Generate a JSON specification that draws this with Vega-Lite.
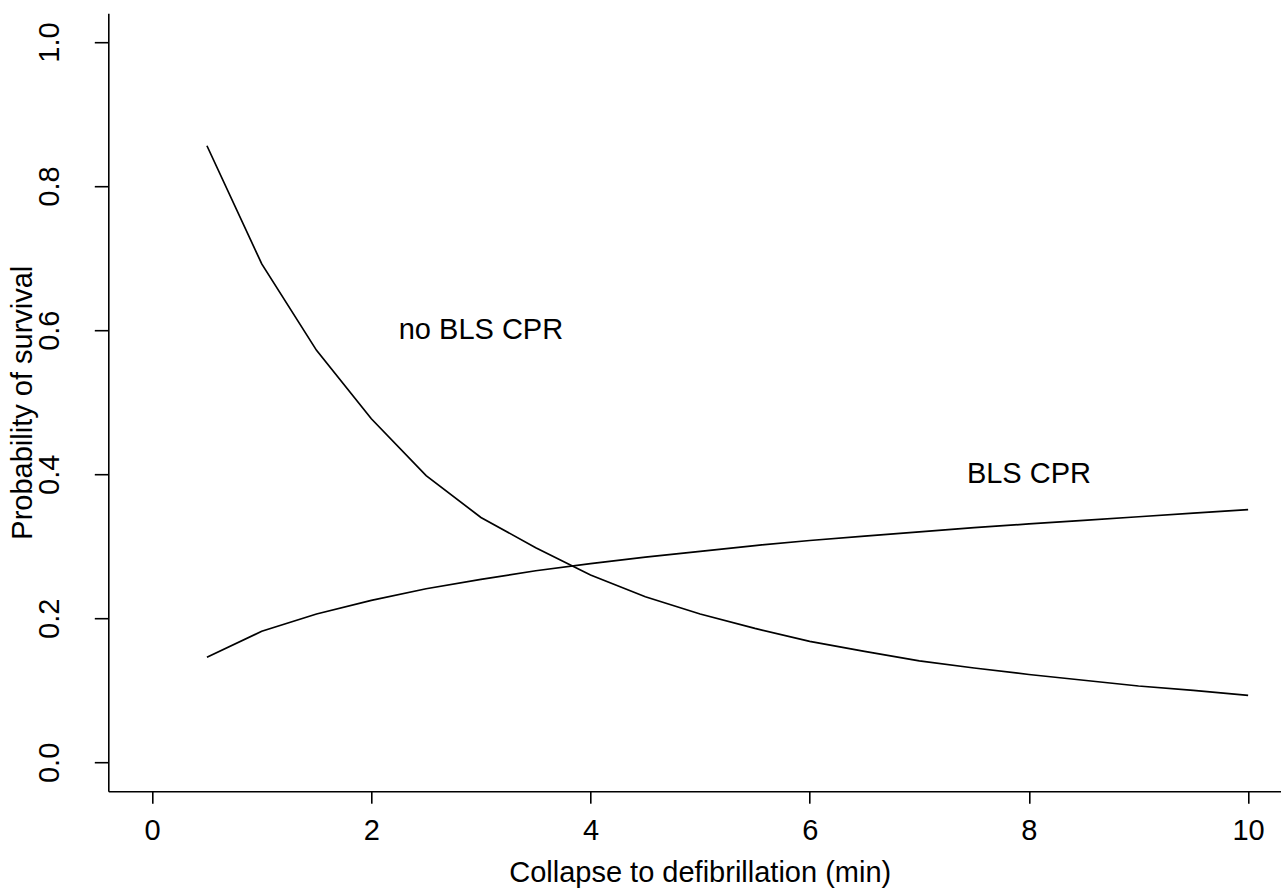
{
  "$schema": "https://vega.github.io/schema/vega-lite/v6.json",
  "autosize": {"type": "none"},
  "padding": {"left": 108.3, "top": 13.2, "right": 0, "bottom": 96.8},
  "width": 1172.7,
  "height": 778,
  "background": "white",
  "config": {
    "font": "Liberation Sans",
    "view": {"stroke": null},
    "axis": {
      "grid": false,
      "labelFontSize": 29,
      "titleFontSize": 29,
      "titleFontWeight": "normal",
      "labelColor": "black",
      "titleColor": "black",
      "domainColor": "black",
      "tickColor": "black",
      "domainWidth": 1.6,
      "tickWidth": 1.6
    }
  },
  "datasets": {
    "curves": [
      {"t": 0.5, "p": 0.856, "group": "no BLS CPR"},
      {"t": 1.0, "p": 0.692, "group": "no BLS CPR"},
      {"t": 1.5, "p": 0.572, "group": "no BLS CPR"},
      {"t": 2.0, "p": 0.477, "group": "no BLS CPR"},
      {"t": 2.5, "p": 0.398, "group": "no BLS CPR"},
      {"t": 3.0, "p": 0.340, "group": "no BLS CPR"},
      {"t": 3.5, "p": 0.298, "group": "no BLS CPR"},
      {"t": 4.0, "p": 0.260, "group": "no BLS CPR"},
      {"t": 4.5, "p": 0.230, "group": "no BLS CPR"},
      {"t": 5.0, "p": 0.206, "group": "no BLS CPR"},
      {"t": 5.5, "p": 0.186, "group": "no BLS CPR"},
      {"t": 6.0, "p": 0.168, "group": "no BLS CPR"},
      {"t": 6.5, "p": 0.154, "group": "no BLS CPR"},
      {"t": 7.0, "p": 0.141, "group": "no BLS CPR"},
      {"t": 7.5, "p": 0.131, "group": "no BLS CPR"},
      {"t": 8.0, "p": 0.122, "group": "no BLS CPR"},
      {"t": 8.5, "p": 0.114, "group": "no BLS CPR"},
      {"t": 9.0, "p": 0.106, "group": "no BLS CPR"},
      {"t": 9.5, "p": 0.100, "group": "no BLS CPR"},
      {"t": 10.0, "p": 0.093, "group": "no BLS CPR"},
      {"t": 0.5, "p": 0.146, "group": "BLS CPR"},
      {"t": 1.0, "p": 0.182, "group": "BLS CPR"},
      {"t": 1.5, "p": 0.206, "group": "BLS CPR"},
      {"t": 2.0, "p": 0.225, "group": "BLS CPR"},
      {"t": 2.5, "p": 0.241, "group": "BLS CPR"},
      {"t": 3.0, "p": 0.254, "group": "BLS CPR"},
      {"t": 3.5, "p": 0.266, "group": "BLS CPR"},
      {"t": 4.0, "p": 0.276, "group": "BLS CPR"},
      {"t": 4.5, "p": 0.285, "group": "BLS CPR"},
      {"t": 5.0, "p": 0.293, "group": "BLS CPR"},
      {"t": 5.5, "p": 0.301, "group": "BLS CPR"},
      {"t": 6.0, "p": 0.308, "group": "BLS CPR"},
      {"t": 6.5, "p": 0.314, "group": "BLS CPR"},
      {"t": 7.0, "p": 0.320, "group": "BLS CPR"},
      {"t": 7.5, "p": 0.326, "group": "BLS CPR"},
      {"t": 8.0, "p": 0.331, "group": "BLS CPR"},
      {"t": 8.5, "p": 0.336, "group": "BLS CPR"},
      {"t": 9.0, "p": 0.341, "group": "BLS CPR"},
      {"t": 9.5, "p": 0.346, "group": "BLS CPR"},
      {"t": 10.0, "p": 0.351, "group": "BLS CPR"}
    ],
    "labels": [
      {"t": 3.0, "p": 0.6, "label": "no BLS CPR"},
      {"t": 8.0, "p": 0.4, "label": "BLS CPR"}
    ]
  },
  "layer": [
    {
      "data": {"name": "curves"},
      "mark": {"type": "line", "color": "black", "strokeWidth": 1.7},
      "encoding": {
        "x": {
          "field": "t", "type": "quantitative",
          "scale": {"domain": [-0.4, 10.3], "nice": false, "zero": false},
          "axis": {
            "title": "Collapse to defibrillation (min)",
            "values": [0, 2, 4, 6, 8, 10],
            "format": "d",
            "tickSize": 12,
            "labelPadding": 13,
            "labelBaseline": "top",
            "labelFlush": false,
            "labelOverlap": false,
            "titleBaseline": "alphabetic",
            "titleY": 90,
            "titleX": 591.4,
            "titleAlign": "center"
          }
        },
        "y": {
          "field": "p", "type": "quantitative",
          "scale": {"domain": [-0.04, 1.04], "nice": false, "zero": false},
          "axis": {
            "title": "Probability of survival",
            "values": [0, 0.2, 0.4, 0.6, 0.8, 1.0],
            "format": ".1f",
            "tickSize": 14,
            "labelAngle": 270,
            "labelAlign": "center",
            "labelBaseline": "alphabetic",
            "labelPadding": 36,
            "labelFlush": false,
            "labelOverlap": false,
            "titleAngle": 270,
            "titleAlign": "center",
            "titleBaseline": "alphabetic",
            "titleX": -77,
            "titleY": 389
          }
        },
        "detail": {"field": "group", "type": "nominal"}
      }
    },
    {
      "data": {"name": "labels"},
      "mark": {"type": "text", "font": "Liberation Sans", "fontSize": 29, "color": "black", "align": "center", "baseline": "middle"},
      "encoding": {
        "x": {"field": "t", "type": "quantitative"},
        "y": {"field": "p", "type": "quantitative"},
        "text": {"field": "label", "type": "nominal"}
      }
    }
  ]
}
